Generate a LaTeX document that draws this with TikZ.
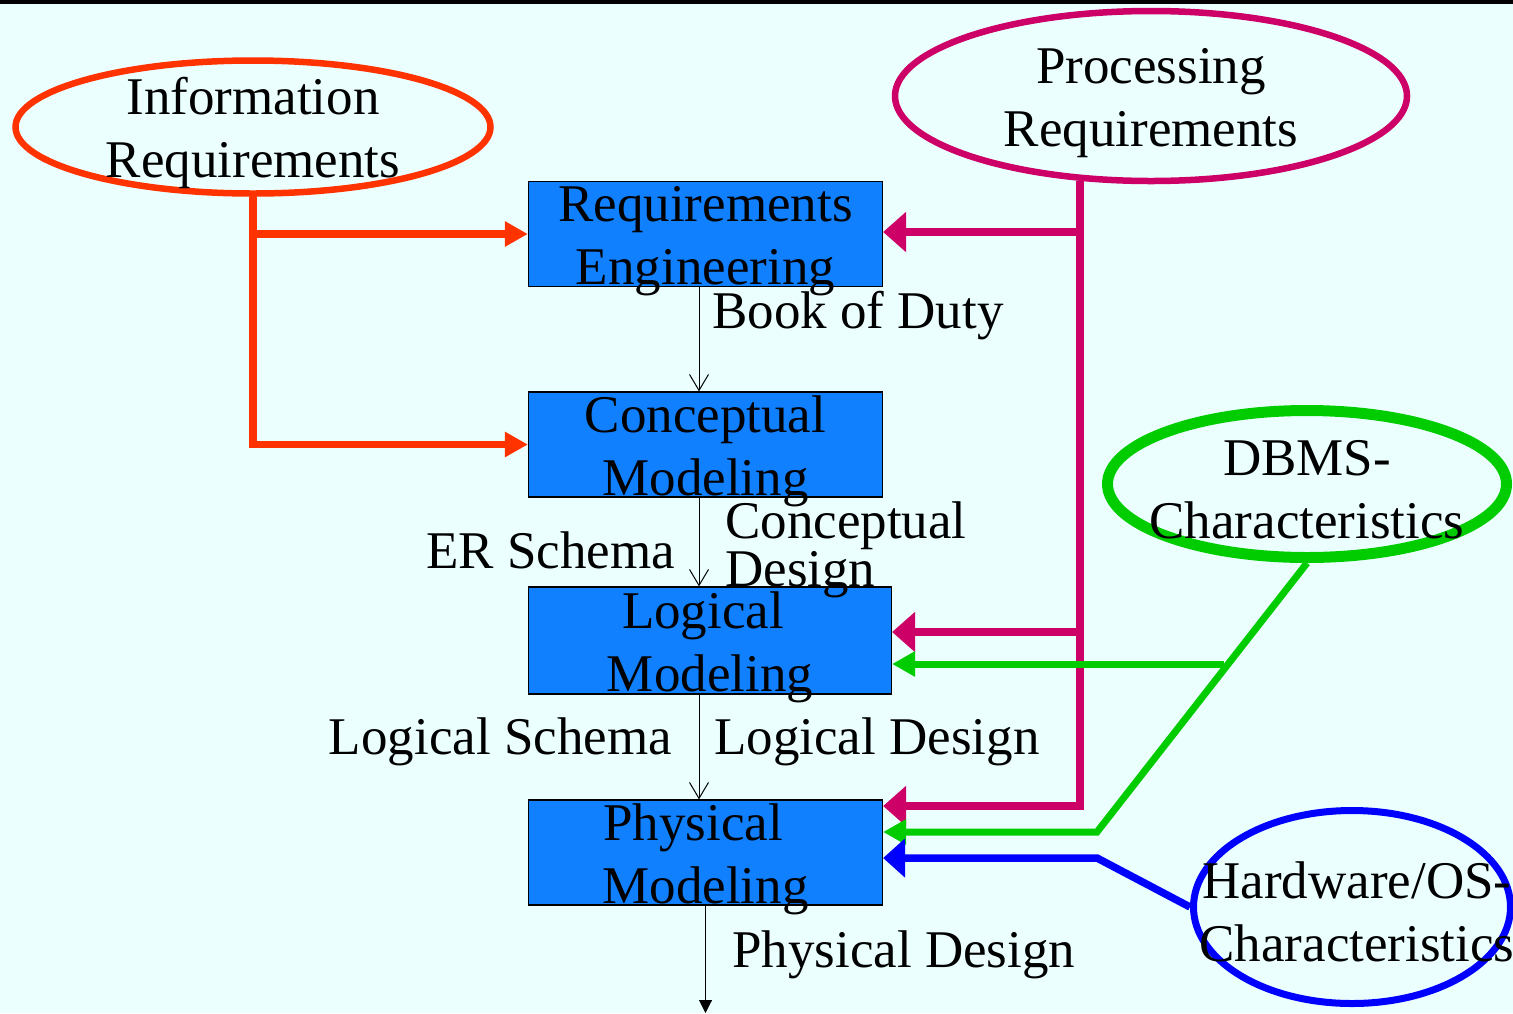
\documentclass[tikz,border=0pt]{standalone}
\usepackage{fontspec}
\setmainfont{Liberation Serif}
\usetikzlibrary{arrows.meta,shapes.geometric}
\definecolor{bgcyan}{RGB}{236,255,255}
\definecolor{boxblue}{RGB}{16,128,255}
\definecolor{infored}{RGB}{255,51,0}
\definecolor{procred}{RGB}{204,0,102}
\definecolor{dbmsgreen}{RGB}{0,204,0}
\definecolor{hwblue}{RGB}{0,0,255}
\begin{document}
\begin{tikzpicture}[x=1pt, y=-1pt,
  txt/.style = {align=center, font=\fontsize{53}{63}\selectfont, inner sep=0pt, yshift=-7pt},
  lbl/.style = {font=\fontsize{53}{63}\selectfont, inner sep=0pt},
  phase/.style = {draw=black, line width=1.2pt, fill=boxblue, minimum height=105pt, inner sep=0pt},
  source/.style = {ellipse, line width=#1, inner sep=0pt},
  flow/.style = {line width=1pt, -{Straight Barb[length=16pt,width=19pt]}},
  feed/.style = {line width=#1},
]
\useasboundingbox (0,0) rectangle (1513,1013);
\fill[bgcyan] (0,0) rectangle (1513,1013);
\draw[line width=4pt] (0,2) -- (1513,2);

\node[phase, minimum width=354pt, label={[txt]center:Requirements\\Engineering}] (reqeng) at (705.5,234) {};
\node[phase, minimum width=354pt, label={[txt]center:Conceptual\\Modeling}] (concmod) at (705.5,444.5) {};
\node[phase, minimum width=363pt, minimum height=107pt, label={[txt]center:Logical\kern14pt\\Modeling}] (logmod) at (710,640.5) {};
\node[phase, minimum width=354pt, label={[txt]center:Physical\kern25pt\\Modeling}] (physmod) at (705.5,852.5) {};

\node[source=6.5pt, draw=infored, minimum width=475pt, minimum height=133pt, label={[txt, yshift=1pt]center:Information\\Requirements}] (inforeq) at (253,127) {};
\node[source=6.5pt, draw=procred, minimum width=512pt, minimum height=170pt, label={[txt]center:Processing\\Requirements}] (procreq) at (1151,96) {};
\node[source=11pt, draw=dbmsgreen, minimum width=399pt, minimum height=147pt, label={[txt, yshift=1pt]center:DBMS-\\Characteristics}] (dbms) at (1307,484) {};
\node[source=7pt, draw=hwblue, minimum width=317pt, minimum height=193pt, label={[txt, xshift=5pt, yshift=2pt]center:Hardware/OS-\\Characteristics}] (hwos) at (1352,907) {};

\node[lbl, anchor=base west] (bookduty) at (712,328) {Book of Duty};
\node[lbl, anchor=base east] (erschema) at (675,568) {ER Schema};
\node[lbl, anchor=north west, align=left, font=\fontsize{53}{44}\selectfont] (concdesign) at (725,502) {Conceptual\\Design};
\node[lbl, anchor=base east] (logschema) at (672,754) {Logical Schema};
\node[lbl, anchor=base west] (logdesign) at (714,754) {Logical Design};
\node[lbl, anchor=base west] (physdesign) at (732,967) {Physical Design};

\draw[flow] ([xshift=-6.5pt]reqeng.south) -- ([xshift=-6.5pt]concmod.north);
\draw[flow] ([xshift=-6.5pt]concmod.south) -- ([xshift=-6.5pt]concmod.south |- logmod.north);
\draw[flow] ([xshift=-11pt]logmod.south) -- ([xshift=-11pt]logmod.south |- physmod.north);
\coordinate (dbout) at (705.5,1013);
\draw[line width=1pt, -{Triangle[length=13pt,width=13pt]}] (physmod.south) -- (dbout);

\draw[feed=7.5pt, infored, -{Triangle[length=23pt,width=24pt]}] (inforeq.south) |- (reqeng.west);
\draw[feed=7.5pt, infored, -{Triangle[length=23pt,width=24pt]}] (inforeq.south) |- (concmod.west);

\draw[feed=8.5pt, procred, -{Triangle[length=23pt,width=39pt]}] (procreq.-130.6) |- ([yshift=2pt]reqeng.east);
\draw[feed=8.5pt, procred, -{Triangle[length=23pt,width=39pt]}] (procreq.-130.6) |- ([yshift=8.5pt]logmod.east);
\draw[feed=8.5pt, procred, -{Triangle[length=23pt,width=39pt]}] (procreq.-130.6) |- ([yshift=46.5pt]physmod.east);

\coordinate (gbend) at (1097,832);
\coordinate (gjoin) at (1224,664);
\draw[feed=7pt, dbmsgreen, -{Triangle[length=23pt,width=24pt]}] (dbms.south) -- (gbend) -- ([yshift=20.5pt]physmod.east);
\draw[feed=7pt, dbmsgreen, -{Triangle[length=23pt,width=24pt]}] (gjoin) -- ([yshift=-23.5pt]logmod.east);

\coordinate (bbend) at (1097,858);
\draw[feed=7.5pt, hwblue, -{Triangle[length=22pt,width=38pt]}] (hwos.west) -- (bbend) -- ([yshift=-5.5pt]physmod.east);
\end{tikzpicture}
\end{document}
